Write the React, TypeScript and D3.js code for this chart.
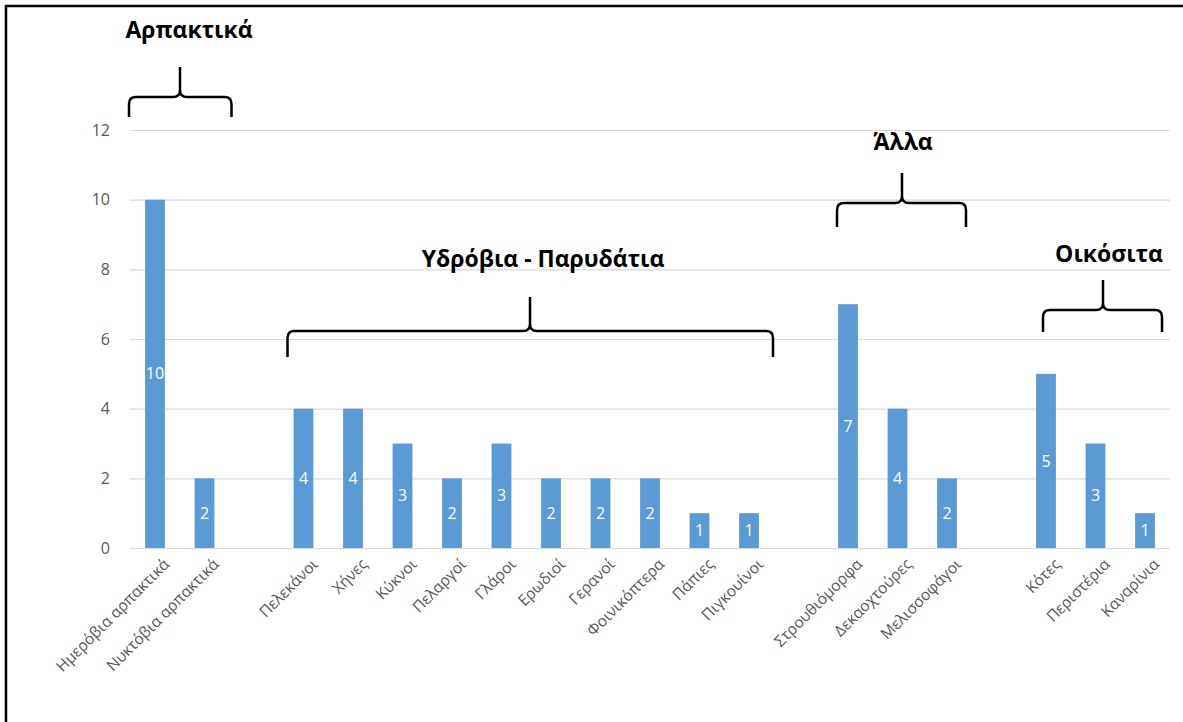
import { useRef, useEffect } from "react";
import * as d3 from "d3";

// "" marks an empty slot between groups
const categories = [
  "Ημερόβια αρπακτικά",
  "Νυκτόβια αρπακτικά",
  "",
  "Πελεκάνοι",
  "Χήνες",
  "Κύκνοι",
  "Πελαργοί",
  "Γλάροι",
  "Ερωδιοί",
  "Γερανοί",
  "Φοινικόπτερα",
  "Πάπιες",
  "Πιγκουίνοι",
  "",
  "Στρουθιόμορφα",
  "Δεκαοχτούρες",
  "Μελισσοφάγοι",
  "",
  "Κότες",
  "Περιστέρια",
  "Καναρίνια",
];

const values: (number | null)[] = [
  10, 2, null, 4, 4, 3, 2, 3, 2, 2, 2, 1, 1, null, 7, 4, 2, null, 5, 3, 1,
];

const yTicks = [0, 2, 4, 6, 8, 10, 12];

const groupTitles = ["Αρπακτικά", "Υδρόβια - Παρυδάτια", "Άλλα", "Οικόσιτα"];
const groupFirst = [0, 3, 14, 18];
const groupLast = [1, 12, 16, 20];

// hand placed annotation layout (pixels relative to the first/last bar centre)
const braceLayout = [
  { padL: 26, padR: 27, stemX: 180, lineY: 97, armY: 117, stemY: 67, titleX: 189, titleY: 38 },
  { padL: 16, padR: 24, stemX: 530, lineY: 331, armY: 357, stemY: 297, titleX: 543, titleY: 267 },
  { padL: 11, padR: 19, stemX: 902, lineY: 203, armY: 227, stemY: 173, titleX: 903, titleY: 150 },
  { padL: 3, padR: 17, stemX: 1103, lineY: 310, armY: 332, stemY: 280, titleX: 1109, titleY: 262 },
];

const FONT = "'Open Sans', 'DejaVu Sans', sans-serif";
const BAR = "#5b9bd5";
const GRID = "#d9d9d9";

const BirdsChart = () => {
  const ref = useRef<SVGSVGElement>(null);

  useEffect(() => {
    if (!ref.current) return;
    const svg = d3.select(ref.current);
    svg.selectAll("*").remove();

    const x = d3
      .scaleBand<number>()
      .domain(d3.range(categories.length))
      .range([130.25, 1169.75])
      .paddingInner(0.6)
      .paddingOuter(0.3);
    const y = d3.scaleLinear().domain([0, 12]).range([548, 130]);
    const cx = (i: number) => x(i)! + x.bandwidth() / 2;

    // frame (only top and left edges are visible)
    svg
      .append("path")
      .attr("d", "M6,722 L6,6 L1183,6")
      .attr("fill", "none")
      .attr("stroke", "#000")
      .attr("stroke-width", 2.5);

    // gridlines
    svg
      .append("g")
      .selectAll("line")
      .data(yTicks)
      .join("line")
      .attr("x1", 130)
      .attr("x2", 1170)
      .attr("y1", (d) => y(d) + 0.5)
      .attr("y2", (d) => y(d) + 0.5)
      .attr("stroke", GRID)
      .attr("stroke-width", 1.2);

    // y tick labels
    svg
      .append("g")
      .selectAll("text")
      .data(yTicks)
      .join("text")
      .attr("x", 110)
      .attr("y", (d) => y(d))
      .attr("dy", "0.35em")
      .attr("text-anchor", "end")
      .attr("font-family", FONT)
      .attr("font-size", 16)
      .attr("fill", "#595959")
      .text((d) => d);

    const bars = categories
      .map((c, i) => ({ c, i, v: values[i] }))
      .filter((d) => d.v !== null) as { c: string; i: number; v: number }[];

    svg
      .append("g")
      .selectAll("rect")
      .data(bars)
      .join("rect")
      .attr("x", (d) => x(d.i)!)
      .attr("y", (d) => y(d.v))
      .attr("width", x.bandwidth())
      .attr("height", (d) => y(0) - y(d.v))
      .attr("fill", BAR);

    // value labels in the middle of the bars
    svg
      .append("g")
      .selectAll("text")
      .data(bars)
      .join("text")
      .attr("x", (d) => cx(d.i))
      .attr("y", (d) => (y(d.v) + y(0)) / 2)
      .attr("dy", "0.35em")
      .attr("text-anchor", "middle")
      .attr("font-family", FONT)
      .attr("font-size", 16)
      .attr("fill", "#fff")
      .text((d) => d.v);

    // category labels
    svg
      .append("g")
      .selectAll("text")
      .data(bars)
      .join("text")
      .attr("transform", (d) => `translate(${cx(d.i) + 7},${y(0) + 9}) rotate(-45)`)
      .attr("dy", "0.75em")
      .attr("text-anchor", "end")
      .attr("font-family", FONT)
      .attr("font-size", 15.5)
      .attr("fill", "#595959")
      .text((d) => d.c);

    // group braces and titles
    const braces = groupTitles.map((t, k) => ({
      t,
      L: cx(groupFirst[k]) - braceLayout[k].padL,
      R: cx(groupLast[k]) + braceLayout[k].padR,
      ...braceLayout[k],
    }));
    const r = 7;
    svg
      .append("g")
      .selectAll("path")
      .data(braces)
      .join("path")
      .attr("d", (b) => {
        const p = d3.path();
        p.moveTo(b.L, b.armY);
        p.lineTo(b.L, b.lineY + r);
        p.quadraticCurveTo(b.L, b.lineY, b.L + r, b.lineY);
        p.lineTo(b.stemX - r, b.lineY);
        p.quadraticCurveTo(b.stemX, b.lineY, b.stemX, b.lineY - r);
        p.lineTo(b.stemX, b.stemY);
        p.moveTo(b.stemX, b.lineY - r);
        p.quadraticCurveTo(b.stemX, b.lineY, b.stemX + r, b.lineY);
        p.lineTo(b.R - r, b.lineY);
        p.quadraticCurveTo(b.R, b.lineY, b.R, b.lineY + r);
        p.lineTo(b.R, b.armY);
        return p.toString();
      })
      .attr("fill", "none")
      .attr("stroke", "#000")
      .attr("stroke-width", 2.5);

    svg
      .append("g")
      .selectAll("text")
      .data(braces)
      .join("text")
      .attr("x", (b) => b.titleX)
      .attr("y", (b) => b.titleY)
      .attr("text-anchor", "middle")
      .attr("font-family", FONT)
      .attr("font-size", 23)
      .attr("font-weight", "bold")
      .attr("fill", "#000")
      .text((b) => b.t);
  }, []);

  return (
    <svg
      ref={ref}
      width={1183}
      height={722}
      style={{ position: "absolute", left: 0, top: 0, background: "#fff" }}
    ></svg>
  );
};

export default function App() {
  return <BirdsChart />;
}
